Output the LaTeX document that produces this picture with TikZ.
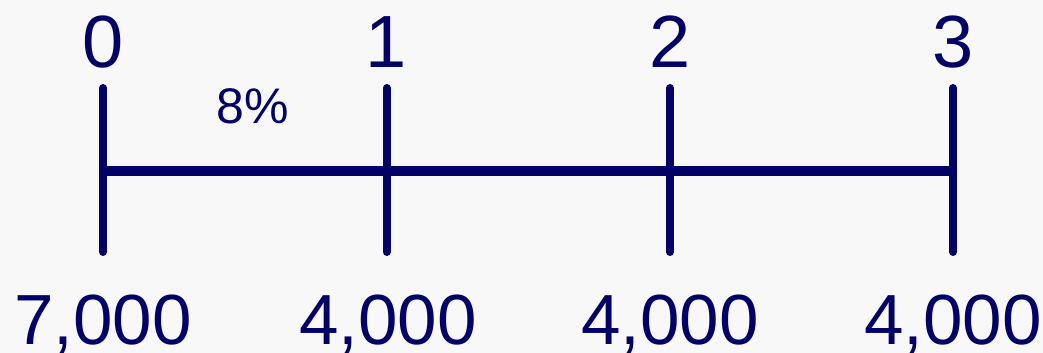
\documentclass[tikz,border=0pt]{standalone}
\usepackage{fontspec}
\setmainfont{Liberation Sans}
\definecolor{navy}{RGB}{2,2,102}
\definecolor{bg}{RGB}{248,248,248}
\begin{document}
\begin{tikzpicture}[x=1pt,y=-1pt,
  tick/.style={draw=navy,line width=8pt,line cap=round},
  axis/.style={draw=navy,line width=10pt,line cap=butt},
  toplabel/.style={text=navy,font=\fontsize{74}{74}\selectfont,inner sep=0pt,anchor=base},
  cashlabel/.style={text=navy,font=\fontsize{71}{71}\selectfont,inner sep=0pt,anchor=base},
  ratelabel/.style={text=navy,font=\fontsize{50}{50}\selectfont,inner sep=0pt,anchor=base}]
\fill[bg] (0,0) rectangle (1043,353);
\useasboundingbox (0,0) rectangle (1043,353);
\foreach \i/\x in {0/103,1/386.5,2/670,3/953}{
  \coordinate (top\i) at (\x,88);
  \coordinate (bot\i) at (\x,252);
  \coordinate (mid\i) at (\x,171);
}
\draw[axis] (mid0) -- (mid3);
\foreach \i in {0,1,2,3}{\draw[tick] (top\i) -- (bot\i);}
\node[toplabel] (p0) at (103,67) {0};
\node[toplabel] (p1) at (386.5,67) {1};
\node[toplabel] (p2) at (670,67) {2};
\node[toplabel] (p3) at (953,67) {3};
\node[ratelabel] (rate) at (253,123) {8\%};
\node[cashlabel] (c0) at (103,344) {7,000};
\node[cashlabel] (c1) at (388,344) {4,000};
\node[cashlabel] (c2) at (670,344) {4,000};
\node[cashlabel] (c3) at (953,344) {4,000};
\end{tikzpicture}
\end{document}
